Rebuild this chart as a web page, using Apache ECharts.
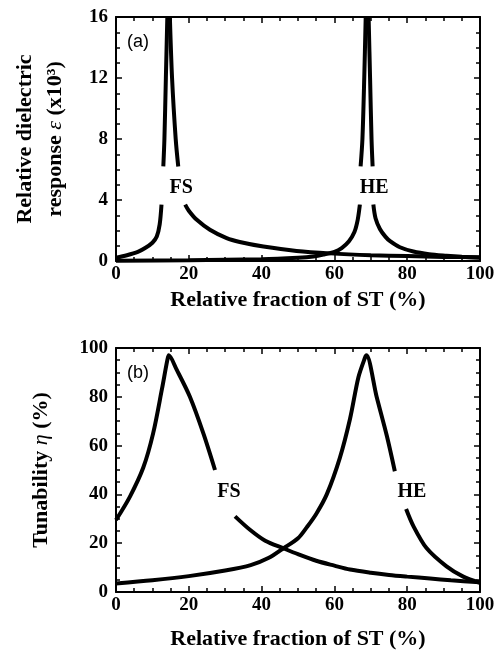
<!DOCTYPE html>
<html>
<head>
<meta charset="utf-8">
<script src="https://cdn.jsdelivr.net/npm/echarts@6/dist/echarts.min.js"></script>
<style>
html, body { margin: 0; padding: 0; background: #fff; }
#main { width: 503px; height: 652px; }
</style>
</head>
<body>
<div id="main"></div>
<script>
// (a) relative dielectric response, x10^3 -- each branch split where the label sits
var fsEpsLow   = [[0, 0.22], [3, 0.38], [6, 0.6], [8, 0.85], [10, 1.2], [11.2, 1.6], [12, 2.4], [12.5, 3.7]];
var fsEpsUp    = [[13.0, 6.2], [13.3, 8], [13.7, 12], [14.1, 16]];
var fsEpsDown  = [[14.8, 16], [15.4, 12], [16.4, 8], [17.1, 6.2]];
var fsEpsTail  = [[19.0, 3.7], [20, 3.3], [22.2, 2.7], [25.8, 2.05], [30.4, 1.5], [34, 1.25], [40.5, 0.95],
                  [49.6, 0.66], [58.8, 0.5], [70, 0.38], [80, 0.32], [90, 0.27], [100, 0.24]];
var heEpsLow   = [[0, 0.02], [20, 0.05], [40, 0.12], [50, 0.22], [54.2, 0.3], [57, 0.42], [60, 0.6],
                  [62, 0.85], [64, 1.3], [65.5, 1.9], [66.4, 2.7], [67, 3.7]];
var heEpsUp    = [[67.2, 6.2], [67.7, 8], [68.2, 12], [68.6, 16]];
var heEpsDown  = [[69.4, 16], [69.8, 12], [70.2, 8], [70.5, 6.2]];
var heEpsTail  = [[70.7, 3.7], [71.3, 2.8], [72.5, 2.1], [74, 1.6], [75.3, 1.3], [78, 0.9], [81.7, 0.62],
                  [86, 0.45], [90.8, 0.35], [95, 0.28], [100, 0.22]];

// (b) tunability, %
var fsEtaPeak  = [[0, 29.5], [3.8, 39], [7.5, 51], [10.2, 65], [12.6, 83], [14.1, 95], [14.5, 97],
                  [16.7, 91], [20.3, 80], [24, 65], [27.2, 50]];
var fsEtaTail  = [[32.7, 31], [36.8, 25.5], [41, 21], [46, 17.9], [50, 15.5], [55, 12.8], [60, 10.8],
                  [64.3, 9.2], [70, 7.9], [75, 7], [80, 6.3], [86.3, 5.5], [92, 4.8], [100, 4]];
var heEtaPeak  = [[0, 3.5], [10, 4.8], [20, 6.5], [30, 8.8], [37, 11], [42, 14], [46, 17.9], [50, 22],
                  [52.4, 26.5], [55, 32], [57.9, 40], [61.5, 55], [64.3, 71], [66.6, 88], [68.4, 96],
                  [68.8, 97], [71.6, 80], [74.4, 64], [76.6, 49.5]];
var heEtaTail  = [[79.7, 34], [81.7, 27], [85.3, 18], [90.8, 10.5], [95.4, 6.3], [100, 3.8]];

var xTicks = [0, 20, 40, 60, 80, 100];

var serif = 'Liberation Serif';

var chartDom = document.getElementById('main');
var myChart = echarts.init(chartDom);
var option;

function curve(data, g) {
    return {
        type: 'line',
        xAxisIndex: g * 2,
        yAxisIndex: g * 2,
        data: data,
        symbol: 'none',
        smooth: 0.3,
        silent: true,
        lineStyle: { color: '#000', width: 4 }
    };
}

function xAx(g, pos, withLabel) {
    return {
        type: 'value',
        gridIndex: g,
        position: pos,
        min: xTicks[0],
        max: xTicks[xTicks.length - 1],
        interval: 20,
        axisLine: { show: true, onZero: false, lineStyle: { color: '#000', width: 2 } },
        axisTick: { show: true, inside: true, length: 6, lineStyle: { color: '#000', width: 1.5 } },
        minorTick: { show: true, splitNumber: 4, length: 4, lineStyle: { color: '#000', width: 1.5 } },
        splitLine: { show: false },
        axisLabel: {
            show: withLabel, color: '#000', fontFamily: serif, fontWeight: 'bold', fontSize: 19, margin: 4
        },
        name: withLabel ? 'Relative fraction of ST (%)' : '',
        nameLocation: 'middle',
        nameGap: g === 0 ? 28 : 36,
        nameTextStyle: { color: '#000', fontFamily: serif, fontWeight: 'bold', fontSize: 22 }
    };
}

function yAx(g, pos, withLabel, max, interval) {
    return {
        type: 'value',
        gridIndex: g,
        position: pos,
        min: 0,
        max: max,
        interval: interval,
        axisLine: { show: true, onZero: false, lineStyle: { color: '#000', width: 2 } },
        axisTick: { show: true, inside: true, length: 6, lineStyle: { color: '#000', width: 1.5 } },
        minorTick: { show: true, splitNumber: 4, length: 4, lineStyle: { color: '#000', width: 1.5 } },
        splitLine: { show: false },
        axisLabel: {
            show: withLabel, color: '#000', fontFamily: serif, fontWeight: 'bold', fontSize: 19, margin: 8
        }
    };
}

var nameRich = {
    b: { fontFamily: serif, fontWeight: 'bold', fontSize: 22, color: '#000', lineHeight: 30 },
    i: { fontFamily: serif, fontStyle: 'italic', fontSize: 22, color: '#000', lineHeight: 30 }
};

var yTop = yAx(0, 'left', true, 16, 4);
yTop.name = '{b|Relative dielectric}\n{b|response }{i|ε}{b| (x10³)}';
yTop.nameLocation = 'middle';
yTop.nameGap = 46;
yTop.nameTextStyle = { rich: nameRich, lineHeight: 30 };

var yBot = yAx(1, 'left', true, 100, 20);
yBot.name = '{b|Tunability }{i|η}{b| (%)}';
yBot.nameLocation = 'middle';
yBot.nameGap = 60;
yBot.nameTextStyle = { rich: nameRich };

function tags(a, b) {
    return {
        symbol: 'circle',
        symbolSize: 0,
        silent: true,
        label: {
            show: true, position: 'inside', formatter: function (p) { return p.name; },
            color: '#000', fontFamily: serif, fontWeight: 'bold', fontSize: 20
        },
        data: [
            { name: 'FS', coord: a },
            { name: 'HE', coord: b }
        ]
    };
}

var sTop = [fsEpsLow, fsEpsUp, fsEpsDown, fsEpsTail, heEpsLow, heEpsUp, heEpsDown, heEpsTail].map(function (d) { return curve(d, 0); });
var sBot = [fsEtaPeak, fsEtaTail, heEtaPeak, heEtaTail].map(function (d) { return curve(d, 1); });
sTop[0].markPoint = tags([17.9, 4.8], [70.9, 4.8]);
sBot[0].markPoint = tags([31, 41], [81.3, 41]);

option = {
    animation: false,
    backgroundColor: '#fff',
    grid: [
        { left: 116, top: 17, width: 364, height: 244 },
        { left: 116, top: 348, width: 364, height: 244 }
    ],
    xAxis: [xAx(0, 'bottom', true), xAx(0, 'top', false), xAx(1, 'bottom', true), xAx(1, 'top', false)],
    yAxis: [yTop, yAx(0, 'right', false, 16, 4), yBot, yAx(1, 'right', false, 100, 20)],
    graphic: [
        { type: 'text', left: 127, top: 33, style: { text: '(a)', font: '18px "Liberation Sans"', fill: '#000' } },
        { type: 'text', left: 127, top: 364, style: { text: '(b)', font: '18px "Liberation Sans"', fill: '#000' } }
    ],
    series: sTop.concat(sBot)
};

option && myChart.setOption(option);
</script>
</body>
</html>
